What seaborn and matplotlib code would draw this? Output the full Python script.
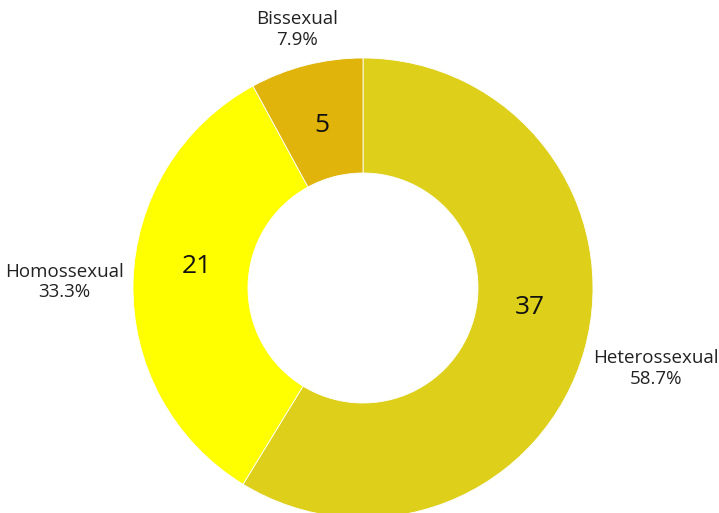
import numpy as np
import matplotlib
matplotlib.use("Agg")
import matplotlib.pyplot as plt
import seaborn as sns

categories = ["Heterossexual", "Homossexual", "Bissexual"]
values = [37, 21, 5]
colors = ["#DDCF1A", "#FFFF00", "#E0B40A"]

sns.set_theme(style="white")
plt.rcParams["font.family"] = ["Open Sans", "DejaVu Sans"]

fig = plt.figure(figsize=(7.19, 5.13), dpi=100)
ax = fig.add_axes([0, 0, 1, 1])

wedges, _ = ax.pie(values, colors=colors, startangle=90, counterclock=False,
                   radius=1.0, wedgeprops=dict(width=0.5, edgecolor="white", linewidth=0.6))

# small angular nudges for the inside value labels (degrees)
value_angle_nudge = [9.0, -6.0, 0.0]
outer_dy = [-0.07, 0.0, 0.0]

total = sum(values)
for w, cat, v, nud, ody in zip(wedges, categories, values, value_angle_nudge, outer_dy):
    mid_deg = (w.theta1 + w.theta2) / 2
    a = np.deg2rad(mid_deg + nud)
    ax.text(0.73 * np.cos(a), 0.73 * np.sin(a), f"{v}", ha="center", va="center",
            fontsize=19, color="#111111")
    mid = np.deg2rad(mid_deg)
    cx, cy = np.cos(mid), np.sin(mid)
    if abs(cx) < 0.3:
        ha = "center"
        x, y = 1.16 * cx, 1.16 * cy
    else:
        ha = "left" if cx > 0 else "right"
        x, y = 1.04 * cx, 1.04 * cy + ody
    ax.text(x, y, f"{cat}\n{v / total * 100:.1f}%", ha=ha, va="center",
            multialignment="center", fontsize=13.5, color="#222222", linespacing=1.2)

ax.set_xlim(-363 / 230, (719 - 363) / 230)
ax.set_ylim(-(513 - 288) / 230, 288 / 230)
ax.set_aspect("auto")
ax.axis("off")

fig.savefig("out.png", dpi=100)
